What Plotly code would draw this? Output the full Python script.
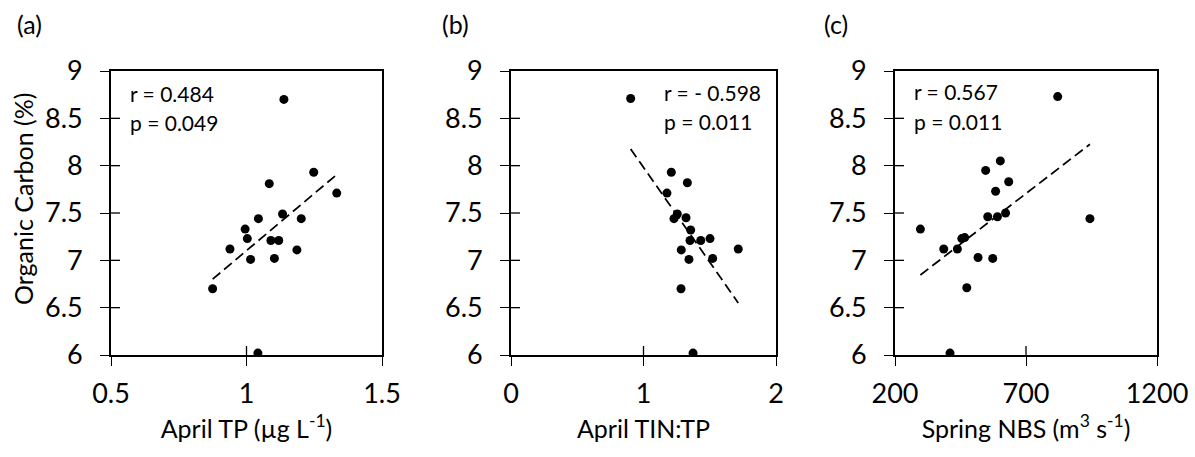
import numpy as np
import plotly.graph_objects as go

W, H = 1195, 457

# Organic carbon (%) against three spring drivers
oc_a = [8.70, 7.93, 7.81, 7.71, 7.44, 7.49, 7.44, 7.33, 7.23, 7.21, 7.21, 7.12, 7.11, 7.01, 7.02, 6.70, 6.02]
april_tp = [1.138, 1.248, 1.084, 1.333, 1.044, 1.133, 1.202, 0.995, 1.003, 1.090, 1.119, 0.939, 1.186, 1.015, 1.103, 0.875, 1.042]

oc_b = [8.71, 7.93, 7.82, 7.71, 7.49, 7.44, 7.45, 7.32, 7.21, 7.21, 7.23, 7.11, 7.12, 7.01, 7.02, 6.70, 6.02]
april_tin_tp = [0.903, 1.210, 1.331, 1.177, 1.255, 1.230, 1.321, 1.356, 1.351, 1.432, 1.502, 1.285, 1.715, 1.343, 1.522, 1.283, 1.374]

oc_c = [8.73, 8.05, 7.95, 7.83, 7.73, 7.50, 7.46, 7.46, 7.44, 7.33, 7.23, 7.24, 7.12, 7.12, 7.03, 7.02, 6.71, 6.02]
spring_nbs = [821, 602, 546, 634, 584, 622, 554, 591, 944, 297, 455, 466, 386, 438, 517, 573, 474, 410]

panel_labels = ["(a)", "(b)", "(c)"]
stats_text = [["r = 0.484", "p = 0.049"], ["r = - 0.598", "p = 0.011"], ["r = 0.567", "p = 0.011"]]
x_titles = ["April TP (µg L<sup>-1</sup>)", "April TIN:TP", "Spring NBS (m<sup>3</sup> s<sup>-1</sup>)"]
x_ranges = [[0.5, 1.5], [0, 2], [200, 1200]]
x_ticks = [[0.5, 1, 1.5], [0, 1, 2], [200, 700, 1200]]
y_range = [6, 9]
y_ticks = [6, 6.5, 7, 7.5, 8, 8.5, 9]
y_title = "Organic Carbon (%)"

# panel placement in pixels
px_left = [111, 511, 895]
px_right = [382, 776, 1157]
px_top, px_bottom = 71, 355
label_pos = [(29, 24), (455, 24), (836, 24)]
stats_pos = [(128, 93, 123), (662, 92, 122), (912, 91, 122)]

FONT = "Lato"
TICK_SIZE = 27
TITLE_SIZE = 25
panels = [(april_tp, oc_a), (april_tin_tp, oc_b), (spring_nbs, oc_c)]

fig = go.Figure()
shapes = []
annotations = []
TICK = 9

for i, (xs, ys) in enumerate(panels):
    n = i + 1
    xa = "x" if n == 1 else f"x{n}"
    ya = "y" if n == 1 else f"y{n}"
    fig.add_trace(go.Scatter(
        x=xs, y=ys, mode="markers", xaxis=xa, yaxis=ya,
        marker=dict(color="black", size=9), showlegend=False, hoverinfo="x+y"))
    # least-squares trend line across the observed range
    slope, intercept = np.polyfit(xs, ys, 1)
    xl = np.array([min(xs), max(xs)])
    fig.add_trace(go.Scatter(
        x=xl, y=slope * xl + intercept, mode="lines", xaxis=xa, yaxis=ya,
        line=dict(color="black", width=1.75, dash="10px,5px"), showlegend=False, hoverinfo="skip"))

    axis_common = dict(showline=True, linecolor="black", linewidth=1.75, mirror=True,
                       ticks="outside", ticklen=TICK, tickwidth=1.3, tickcolor="black",
                       showgrid=False, zeroline=False, automargin=False,
                       tickfont=dict(family=FONT, size=TICK_SIZE, color="black"))
    fig.update_layout({
        ("xaxis" if n == 1 else f"xaxis{n}"): dict(
            axis_common, domain=[px_left[i] / W, px_right[i] / W], range=x_ranges[i],
            tickmode="array", tickvals=x_ticks[i], anchor=ya,
            ticklabelstandoff=5,
            title=dict(text=x_titles[i], font=dict(family=FONT, size=TITLE_SIZE, color="black"), standoff=12)),
        ("yaxis" if n == 1 else f"yaxis{n}"): dict(
            axis_common, domain=[1 - px_bottom / H, 1 - px_top / H], range=y_range,
            tickmode="array", tickvals=y_ticks, anchor=xa, ticklabelstandoff=12),
    })

    # inward halves of the crossing tick marks
    for v in x_ticks[i][1:-1]:
        shapes.append(dict(type="line", xref=xa, yref=ya, x0=v, x1=v,
                           ysizemode="pixel", yanchor=y_range[0], y0=0, y1=TICK,
                           line=dict(color="black", width=1.3)))
    for v in y_ticks[1:-1]:
        shapes.append(dict(type="line", xref=xa, yref=ya, y0=v, y1=v,
                           xsizemode="pixel", xanchor=x_ranges[i][0], x0=0, x1=TICK,
                           line=dict(color="black", width=1.3)))

    lx, ly = label_pos[i]
    annotations.append(dict(text=panel_labels[i], xref="paper", yref="paper",
                            x=lx / W, y=1 - ly / H, xanchor="center", yanchor="middle",
                            showarrow=False, font=dict(family=FONT, size=TITLE_SIZE, color="black")))
    sx, sy1, sy2 = stats_pos[i]
    for txt, sy in zip(stats_text[i], (sy1, sy2)):
        annotations.append(dict(text=txt, xref="paper", yref="paper",
                                x=sx / W, y=1 - sy / H, xanchor="left", yanchor="middle",
                                showarrow=False, font=dict(family=FONT, size=21, color="black")))

annotations.append(dict(text=y_title, xref="paper", yref="paper", x=23 / W, y=1 - 199 / H,
                        xanchor="center", yanchor="middle", textangle=-90, showarrow=False,
                        font=dict(family=FONT, size=TITLE_SIZE, color="black")))

fig.update_layout(width=W, height=H, margin=dict(l=0, r=0, t=0, b=0),
                  paper_bgcolor="white", plot_bgcolor="white",
                  shapes=shapes, annotations=annotations,
                  font=dict(family=FONT, color="black"))

fig.write_html("out.html")
